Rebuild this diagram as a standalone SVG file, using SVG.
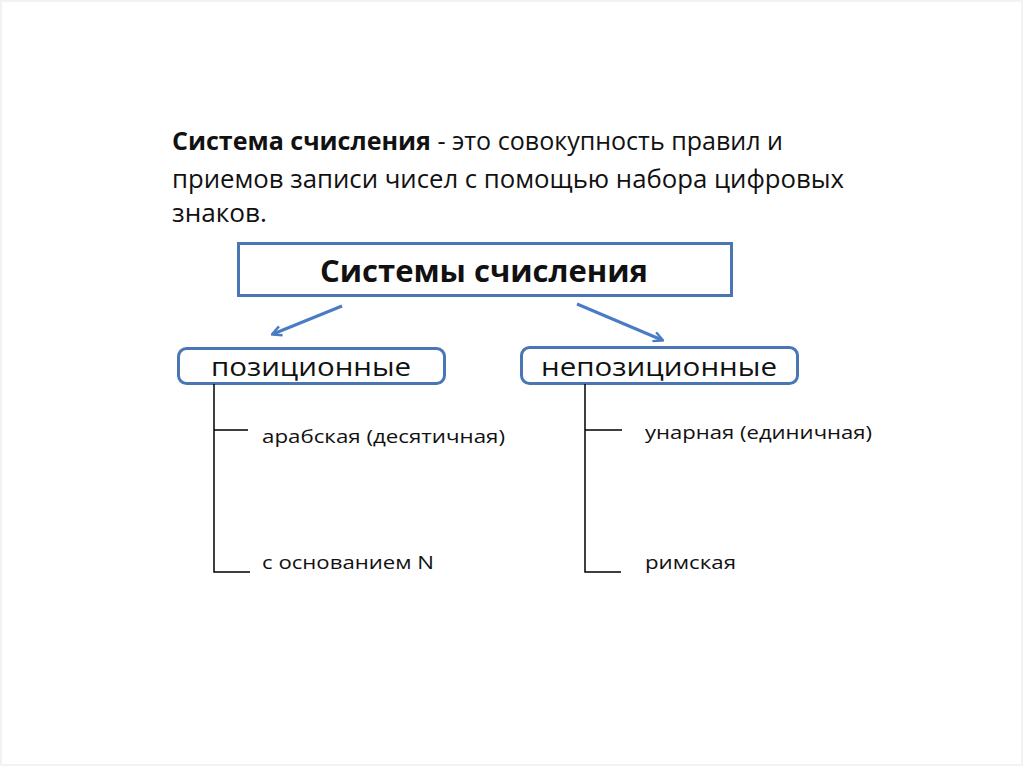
<svg xmlns="http://www.w3.org/2000/svg" width="1024" height="767" viewBox="0 0 1024 767">
<style>
.t{font-family:"Open Sans","Liberation Sans",sans-serif;fill:#111}
.blue{fill:none;stroke:#4a76b5;stroke-width:3}
.tree{fill:none;stroke:#000;stroke-width:1.5}
.arr{stroke:#4a7cc4;stroke-width:3;fill:none}
</style>
<defs>
<marker id="ah" viewBox="0 0 10 10" refX="8" refY="5" markerWidth="4" markerHeight="4" orient="auto" markerUnits="strokeWidth">
<path d="M1,1 L9,5 L1,9" fill="none" stroke="#4a7cc4" stroke-width="2"/>
</marker>
</defs>
<rect x="0" y="0" width="1024" height="767" fill="#fff"/>
<rect x="1" y="1" width="1021" height="764" fill="none" stroke="#f2f2f2" stroke-width="2"/>
<g id="definition">
<text class="t" x="172" y="150" font-size="25" textLength="611" lengthAdjust="spacingAndGlyphs"><tspan font-weight="bold">Система счисления</tspan> - это совокупность правил и</text>
<text class="t" x="172" y="188" font-size="25" textLength="672" lengthAdjust="spacingAndGlyphs">приемов записи чисел с помощью набора цифровых</text>
<text class="t" x="172" y="222" font-size="25" textLength="95" lengthAdjust="spacingAndGlyphs">знаков.</text>
</g>
<g id="root">
<rect class="blue" x="238.5" y="243.5" width="493" height="52"/>
<text class="t" x="484" y="282" font-size="30" font-weight="bold" text-anchor="middle" textLength="328" lengthAdjust="spacingAndGlyphs">Системы счисления</text>
</g>
<g id="positional">
<rect class="blue" x="178.5" y="348.5" width="266" height="35" rx="8"/>
<text class="t" x="311" y="376" font-size="25" text-anchor="middle" textLength="200" lengthAdjust="spacingAndGlyphs">позиционные</text>
</g>
<g id="nonpositional">
<rect class="blue" x="521.5" y="347.5" width="276" height="36" rx="8"/>
<text class="t" x="659" y="376" font-size="25" text-anchor="middle" textLength="236" lengthAdjust="spacingAndGlyphs">непозиционные</text>
</g>
<g id="arabic"><text class="t" x="262" y="443" font-size="19" textLength="243" lengthAdjust="spacingAndGlyphs">арабская (десятичная)</text></g>
<g id="baseN"><text class="t" x="262" y="569" font-size="19" textLength="172" lengthAdjust="spacingAndGlyphs">с основанием N</text></g>
<g id="unary"><text class="t" x="645" y="439" font-size="19" textLength="227" lengthAdjust="spacingAndGlyphs">унарная (единичная)</text></g>
<g id="roman"><text class="t" x="645" y="569" font-size="19" textLength="91" lengthAdjust="spacingAndGlyphs">римская</text></g>
<g id="connectors">
<line class="arr" x1="342" y1="306" x2="273" y2="334" marker-end="url(#ah)"/>
<line class="arr" x1="577" y1="304" x2="662" y2="340" marker-end="url(#ah)"/>
<path class="tree" d="M214,384 V572 H250 M214,430 H248"/>
<path class="tree" d="M585,384 V572 H621 M585,430 H622"/>
</g>
</svg>
